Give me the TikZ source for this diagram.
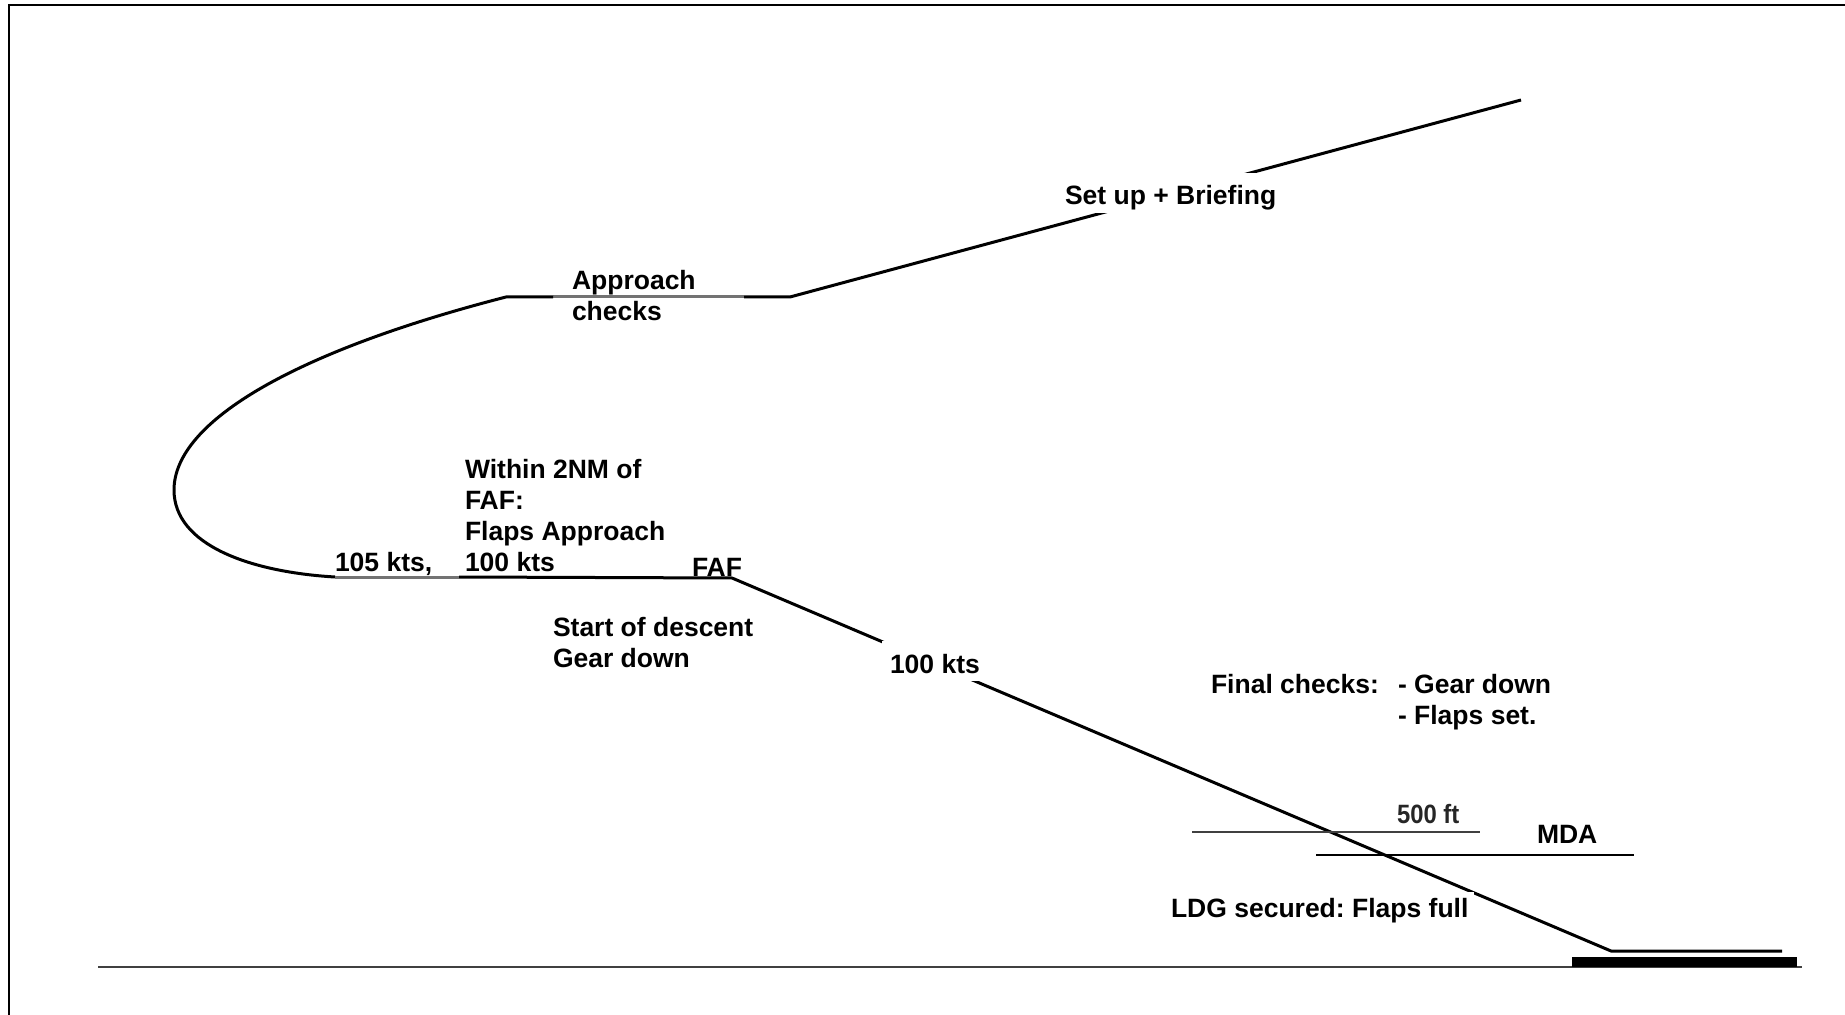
\documentclass[tikz,border=0pt]{standalone}
\usepackage{fontspec}
\setmainfont{Liberation Sans}
\newfontfamily\narrowfont[FakeStretch=0.9]{Liberation Sans}
\frenchspacing
\usetikzlibrary{positioning}
\tikzstyle{frame}=[
  draw=black,
  line width=1pt,
]
\tikzstyle{track}=[
  draw=black,
  line width=1.5pt,
  line join=round,
]
\tikzstyle{trackgrey}=[
  draw=black!55,
  line width=1.5pt,
]
\tikzstyle{ground}=[
  draw=black!75,
  line width=1pt,
]
\tikzstyle{runway}=[
  fill=black,
]
\tikzstyle{level}=[
  draw=black,
  line width=1pt,
]
\tikzstyle{levelthin}=[
  draw=black!75,
  line width=0.8pt,
]
\tikzstyle{note}=[
  anchor=base west,
  align=left,
  font={\fontsize{13.25}{15.5}\selectfont\bfseries},
  inner sep=0pt,
  outer sep=0pt,
]
\tikzstyle{cutnote}=[
  note,
  fill=white,
  inner sep=4pt,
  text height=12pt,
  text depth=0pt,
]
\tikzstyle{cutnotelow}=[
  note,
  fill=white,
  inner sep=3pt,
]
\tikzstyle{heightnote}=[
  note,
  color=black!85,
  font={\fontsize{13.25}{15.5}\narrowfont\bfseries},
]
\tikzset{
  x=0.5pt,
  y=-0.5pt,
}

\begin{document}
\begin{tikzpicture}
      \useasboundingbox (0,0) rectangle (1845,1015);
      % frame, only top and left edges show
      \coordinate (fTL) at (9,5);
      \draw [frame] (1845,5) -- (fTL) -- (9,1015);
      % flight path
      \coordinate (hold) at (1521,100);
      \coordinate (level) at (790,297);
      \coordinate (chkE) at (744,297);
      \coordinate (chkS) at (553,297);
      \coordinate (turnS) at (506,297);
      \coordinate (turnW) at (174,490);
      \coordinate (turnE) at (335,577);
      \coordinate (slowE) at (459,577);
      \coordinate (faf) at (732,578);
      \coordinate (td) at (1611,951);
      \coordinate (stop) at (1782,951);
      \draw [track] (hold) -- (level) -- (chkE);
      \draw [trackgrey] (chkE) -- (chkS);
      \draw [track] (chkS) -- (turnS)
        .. controls (300,350) and (174,420) .. (turnW)
        .. controls (174,545) and (250,572) .. (turnE);
      \draw [trackgrey] (turnE) -- (slowE);
      \draw [track] (slowE) -- (faf) -- (td) -- (stop);
      % ground and runway
      \coordinate (gW) at (98,967);
      \coordinate (gE) at (1802,967);
      \draw [ground] (gW) -- (gE);
      \path [runway] (1572,957) rectangle (1797,967);
      % minima
      \coordinate (ftW) at (1192,832);
      \coordinate (ftE) at (1480,832);
      \coordinate (mdaW) at (1316,855);
      \coordinate (mdaE) at (1634,855);
      \draw [levelthin] (ftW) -- (ftE);
      \draw [level] (mdaW) -- (mdaE);
      % labels (base = last line)
      \node (setup) [cutnote] at (1057,205) {Set up + Briefing};
      \node (appr) [note] at (572,321) {Approach\\checks};
      \node (within) [note] at (465,571) {Within 2NM of\\FAF:\\Flaps Approach\\100 kts};
      \node (spd105) [note] at (335,571) {105 kts,};
      \node (faflbl) [note] at (692,576) {FAF};
      \node (descent) [note] at (553,667) {Start of descent\\Gear down};
      \node (spd100) [cutnote] at (882,673) {100 kts};
      \node (final) [note] at (1211,693) {Final checks:};
      \node (items) [note] at (1398,724) {- Gear down\\- Flaps set.};
      \node (ft500) [heightnote] at (1397,823) {500 ft};
      \node (mda) [note] at (1537,843) {MDA};
      \node (ldg) [cutnotelow] at (1165,917) {LDG secured: Flaps full};
    \end{tikzpicture}
\end{document}
